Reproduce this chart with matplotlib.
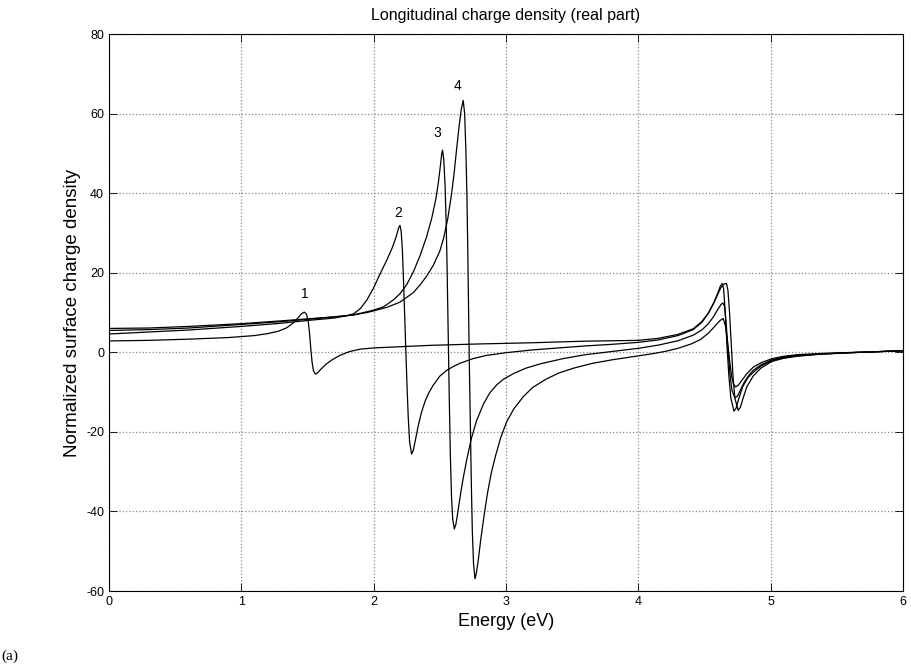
import numpy as np
import matplotlib
matplotlib.use('Agg')
import matplotlib.pyplot as plt

plt.rcParams['font.family'] = ['Liberation Sans', 'DejaVu Sans']
plt.rcParams['axes.unicode_minus'] = False

################################# data ####################
e1 = [0.0, 0.3, 0.6, 0.9, 1.1, 1.2, 1.28, 1.34, 1.39, 1.43, 1.455, 1.476,
      1.492, 1.505, 1.515, 1.525, 1.535, 1.545, 1.56, 1.575, 1.6, 1.64, 1.69,
      1.75, 1.82, 1.9, 2.0, 2.2, 2.43, 2.8, 3.2, 3.6, 4.0, 4.15, 4.3, 4.415,
      4.48, 4.53, 4.57, 4.6, 4.625, 4.65, 4.667, 4.678, 4.69, 4.703, 4.716,
      4.73, 4.755, 4.772, 4.79, 4.82, 4.87, 4.93, 5.01, 5.1, 5.2, 5.37, 5.6,
      5.8, 6.0]
rho1 = [2.85, 3.0, 3.3, 3.7, 4.2, 4.7, 5.3, 6.1, 7.3, 8.7, 9.7, 10.1,
        9.6, 8.0, 5.0, 1.0, -2.5, -4.6, -5.5, -5.2, -4.3, -3.0, -1.8,
        -0.7, 0.2, 0.8, 1.1, 1.4, 1.75, 2.1, 2.4, 2.8, 3.0, 3.5, 4.5, 5.9,
        7.7, 9.9, 12.3, 14.5, 16.3, 17.2, 17.3, 15.5, 10.0, 2.0, -6.0,
        -11.5, -14.6, -13.8, -11.8, -8.7, -5.9, -3.9, -2.3, -1.5, -1.0, -0.5, -0.1,
        0.15, 0.4]

e2 = [0.0, 0.3, 0.6, 1.0, 1.3, 1.5, 1.7, 1.8, 1.85, 1.9, 1.95, 2.0, 2.05,
      2.1, 2.14, 2.17, 2.188, 2.199, 2.208, 2.217, 2.226, 2.235, 2.244, 2.253,
      2.262, 2.272, 2.287, 2.3, 2.315, 2.335, 2.36, 2.39, 2.42, 2.45, 2.5,
      2.55, 2.6, 2.65, 2.75, 2.85, 3.0, 3.2, 3.4, 3.6, 3.8, 4.0, 4.15, 4.3,
      4.415, 4.48, 4.53, 4.57, 4.6, 4.62, 4.634, 4.645, 4.658, 4.67, 4.685,
      4.7, 4.723, 4.74, 4.76, 4.79, 4.83, 4.87, 4.93, 5.01, 5.1, 5.2, 5.37,
      5.6, 5.8, 6.0]
rho2 = [4.6, 5.1, 5.6, 6.5, 7.3, 8.0, 8.6, 9.2, 9.7, 11.0, 13.2, 16.2, 19.8,
        23.2, 26.2, 29.0, 31.2, 31.9, 30.5, 26.0, 18.0, 9.0, 0.0, -9.0,
        -16.5, -22.5, -25.6, -24.6, -22.2, -18.8, -15.3, -12.2, -10.0, -8.3, -6.0,
        -4.6, -3.6, -2.8, -1.6, -0.8, -0.1, 0.6, 1.1, 1.6, 2.0, 2.5, 3.1, 4.2,
        5.7, 7.5, 9.8, 12.4, 14.8, 16.6, 17.3, 16.0, 10.0, 2.0, -6.0,
        -11.5, -14.8, -14.0, -11.6, -8.6, -6.3, -5.0, -3.4, -2.1, -1.4, -0.9, -0.45,
        -0.1, 0.15, 0.4]

e3 = [0.0, 0.3, 0.6, 1.0, 1.3, 1.5, 1.7, 1.85, 1.95, 2.0, 2.072, 2.1, 2.15,
      2.199, 2.25, 2.3, 2.35, 2.4, 2.44, 2.47, 2.49, 2.505, 2.515, 2.521,
      2.53, 2.54, 2.548, 2.555, 2.561, 2.566, 2.572, 2.58, 2.589, 2.598, 2.61,
      2.622, 2.635, 2.653, 2.675, 2.703, 2.74, 2.778, 2.83, 2.878, 2.93, 2.98,
      3.06, 3.15, 3.26, 3.43, 3.6, 3.8, 4.0, 4.15, 4.3, 4.415, 4.48, 4.53,
      4.57, 4.6, 4.625, 4.64, 4.652, 4.665, 4.678, 4.692, 4.708, 4.73, 4.75,
      4.775, 4.8, 4.84, 4.87, 4.93, 5.01, 5.1, 5.2, 5.37, 5.6, 5.8, 6.0]
rho3 = [5.5, 5.7, 6.1, 7.0, 7.7, 8.3, 8.9, 9.4, 10.2, 10.6, 11.4, 12.0, 13.2,
        14.7, 17.0, 20.2, 24.2, 29.0, 33.8, 38.5, 42.8, 47.0, 50.0, 50.8,
        48.5, 42.0, 33.0, 22.0, 10.0, 0.0, -12.0, -26.0, -36.5, -42.0, -44.4,
        -43.2, -40.5, -36.5, -32.0, -27.1, -21.5, -17.2, -13.0, -10.2, -8.2, -6.8,
        -5.3, -4.0, -2.9, -1.6, -0.6, 0.2, 1.0, 1.8, 2.9, 4.3, 5.6, 7.2,
        9.0, 10.7, 12.0, 12.4, 11.5, 7.0, 1.0, -5.0, -9.5, -11.4, -11.0,
        -9.3, -7.6, -5.6, -4.5, -3.1, -1.9, -1.2, -0.8, -0.4, -0.1, 0.15, 0.4]

e4 = [0.0, 0.3, 0.6, 1.0, 1.3, 1.5, 1.7, 1.85, 1.95, 2.0, 2.1, 2.199, 2.3,
      2.35, 2.4, 2.45, 2.5, 2.53, 2.56, 2.59, 2.61, 2.627, 2.645, 2.662,
      2.677, 2.688, 2.698, 2.706, 2.712, 2.718, 2.723, 2.73, 2.738, 2.746,
      2.755, 2.766, 2.775, 2.79, 2.81, 2.835, 2.86, 2.89, 2.92, 2.96, 3.005,
      3.06, 3.13, 3.2, 3.3, 3.4, 3.51, 3.65, 3.8, 4.0, 4.1, 4.2, 4.3, 4.4,
      4.47, 4.53, 4.58, 4.615, 4.642, 4.66, 4.675, 4.69, 4.705, 4.72, 4.735,
      4.755, 4.78, 4.82, 4.87, 4.93, 5.01, 5.1, 5.2, 5.37, 5.6, 5.8, 6.0]
rho4 = [6.0, 6.1, 6.5, 7.2, 7.9, 8.4, 8.9, 9.4, 10.0, 10.4, 11.3, 12.6, 15.0,
        16.9, 19.1, 21.8, 25.4, 28.8, 33.5, 40.0, 45.5, 51.0, 56.5, 61.0,
        63.3, 60.0, 50.0, 38.0, 25.0, 10.0, -2.0, -16.0, -32.0, -45.0,
        -53.0, -56.9, -55.8, -52.5, -47.0, -41.0, -35.5, -30.2, -26.2, -21.5, -17.5,
        -14.2, -11.2, -8.9, -6.8, -5.2, -4.0, -2.8, -1.9, -0.9, -0.4, 0.2, 1.0, 2.1,
        3.2, 4.8, 6.6, 7.9, 8.5, 6.5, 2.5, -2.0, -5.8, -8.0, -8.7,
        -8.3, -7.2, -5.4, -3.7, -2.6, -1.6, -1.0, -0.6, -0.3, -0.05, 0.15, 0.4]

# curve labels
lab = ['1', '2', '3', '4']
lab_x = [1.48, 2.186, 2.483, 2.637]
lab_y = [14.7, 34.9, 55.0, 66.9]

################################### plot ######################################
fig = plt.figure(figsize=(9.12, 6.72), dpi=100)
ax = fig.add_axes([0.1195, 0.1205, 0.8705, 0.8289])

for e, r in [(e1, rho1), (e2, rho2), (e3, rho3), (e4, rho4)]:
    ax.plot(e, r, color='black', linewidth=0.9)

for t, x, y in zip(lab, lab_x, lab_y):
    ax.text(x, y, t, fontsize=10, ha='center', va='center')

ax.axis([0, 6, -60, 80])
ax.set_xticks(np.arange(0, 7, 1))
ax.set_yticks(np.arange(-60, 81, 20))
ax.grid(True, linestyle=':', color='#888888', linewidth=0.9)
ax.tick_params(direction='in', length=6, width=0.6, labelsize=9,
               top=True, right=True)
for s in ['top', 'bottom', 'left', 'right']:
    ax.spines[s].set_linewidth(0.8)

ax.set_title('Longitudinal charge density (real part)', fontsize=11.5, pad=10)
ax.set_xlabel('Energy (eV)', fontsize=13)
ax.set_ylabel('Normalized surface charge density', fontsize=13.5)

fig.text(0.002, 0.018, '(a)', fontsize=11, family='Liberation Serif')

plt.savefig('out.png', dpi=100)
